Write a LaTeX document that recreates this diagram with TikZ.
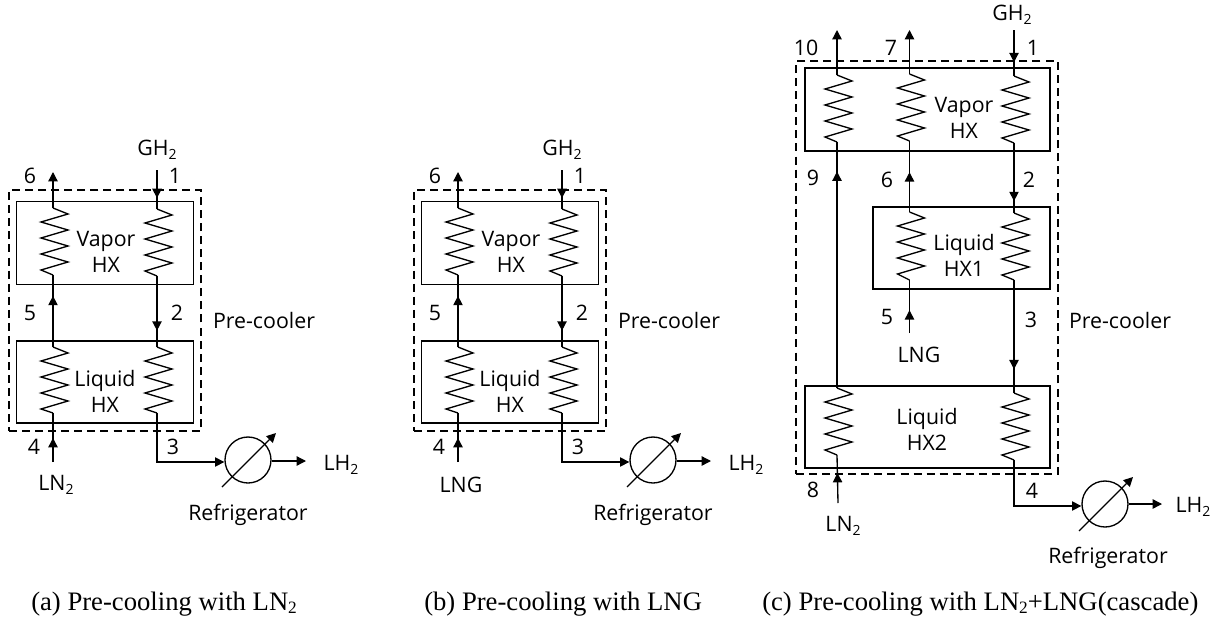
\documentclass[tikz,border=0pt]{standalone}
\usepackage{fontspec}
\setmainfont{Open Sans}
\newfontfamily\capfont{Liberation Serif}
\usetikzlibrary{arrows.meta,decorations.markings}
\newcommand{\low}[1]{\raisebox{-0.35ex}{\fontsize{10.5}{11}\selectfont #1}}
\newcommand{\lowc}[1]{\raisebox{-0.3ex}{\fontsize{13}{14}\selectfont #1}}
\tikzset{
  x=0.75pt,y=-0.75pt,
  pipe/.style={line width=1pt,line join=miter},
  boxx/.style={draw,line width=1pt},
  dashbox/.style={draw,line width=1.6pt,dash pattern=on 6pt off 3.8pt},
  endtip/.style={-{Triangle[length=7pt,width=7pt]}},
  midtip/.style={postaction={decorate},decoration={markings,mark=at position #1 with {\arrow{Triangle[length=7pt,width=7pt]}}}},
  lab/.style={font=\fontsize{16}{19.5}\selectfont,inner sep=0pt,align=center},
  captext/.style={font=\capfont\fontsize{20}{23}\selectfont,inner sep=0pt,anchor=base west},
}
% zigzag coil: name, x, top y, bottom y
\newcommand{\coil}[4]{%
  \coordinate (#1t) at (#2,#3);
  \coordinate (#1b) at (#2,#4);
  \draw[pipe] (#1t) -- ++(15,6) -- ++(-27,8) -- ++(27,8) -- ++(-27,8) -- ++(27,8) -- ++(-27,8) -- ++(27,8) -- ++(-27,8) -- (#1b);
}
% refrigerator symbol: name, x, y
\newcommand{\fridge}[3]{%
  \node[draw,circle,line width=1pt,minimum size=34.5pt,inner sep=0pt] (#1) at (#2,#3) {};
  \coordinate (#1s) at (#2-26,#3+27);
  \coordinate (#1e) at (#2+28,#3-27);
  \draw[pipe,endtip] (#1s) -- (#1e);
}
% one two-stream panel: prefix, x offset, fluid label
\newcommand{\panel}[3]{%
\begin{scope}[xshift=#2*0.75pt]
  \node[dashbox,minimum width=144pt,minimum height=180.75pt,inner sep=0pt] (#1pc) at (105,310.5) {};
  \node[boxx,minimum width=132.75pt,minimum height=62pt,inner sep=0pt] (#1v) at (105,243) {};
  \node[boxx,minimum width=132.75pt,minimum height=61.5pt,inner sep=0pt] (#1l) at (105,382) {};
  \coil{#1A}{53}{208}{275}
  \coil{#1B}{157}{209}{276}
  \coil{#1C}{53}{347}{413}
  \coil{#1D}{157}{347}{413}
  \coordinate (#1o6) at (53,172);
  \coordinate (#1i1) at (157,170);
  \coordinate (#1i4) at (53,462);
  \coordinate (#1c3) at (157,462);
  \fridge{#1F}{248}{460}
  \coordinate (#1out) at (306,461);
  \draw[pipe,endtip] (#1At) -- (#1o6);
  \draw[pipe,midtip=0.72] (#1i1) -- (#1Bt);
  \draw[pipe,midtip=0.71] (#1Ct) -- (#1Ab);
  \draw[pipe,midtip=0.77] (#1Bb) -- (#1Dt);
  \draw[pipe,midtip=0.49] (#1i4) -- (#1Cb);
  \draw[pipe,endtip] (#1Db) -- (#1c3) -- (#1F.west |- #1c3);
  \draw[pipe,endtip] (#1F.east |- #1out) -- (#1out);
  \node[lab] (#1tg) at (157,150) {GH\low{2}};
  \node[lab] (#1t6) at (30,176) {6};
  \node[lab] (#1t1) at (175,176) {1};
  \node[lab] (#1t5) at (30,313) {5};
  \node[lab] (#1t2) at (177,313) {2};
  \node[lab] (#1t3) at (173,447) {3};
  \node[lab] (#1t4) at (34,447) {4};
  \node[lab] (#1tv) at (106,252) {Vapor\\HX};
  \node[lab] (#1tl) at (105,391) {Liquid\\HX};
  \node[lab] (#1tp) at (264,320) {Pre-cooler};
  \node[lab] (#1tf) at (56,485) {#3};
  \node[lab] (#1tr) at (248,515) {Refrigerator};
  \node[lab] (#1th) at (341,465) {LH\low{2}};
\end{scope}}
\begin{document}
\begin{tikzpicture}
\useasboundingbox (0,0) rectangle (1220,621);
\panel{a}{0}{LN\low{2}}
\panel{b}{405}{LNG}
% panel c
\node[dashbox,minimum width=196.5pt,minimum height=309.75pt,inner sep=0pt] (cpc) at (927,267.75) {};
\node[boxx,minimum width=183.75pt,minimum height=62.25pt,inner sep=0pt] (cv) at (927.5,109.5) {};
\node[boxx,minimum width=132.75pt,minimum height=61.5pt,inner sep=0pt] (cl1) at (961.5,248) {};
\node[boxx,minimum width=183.75pt,minimum height=61.5pt,inner sep=0pt] (cl2) at (927.5,427) {};
\coil{cA}{837}{75}{142}
\coil{cB}{909.5}{74}{141}
\coil{cC}{1014}{76}{143}
\coil{cD}{909.5}{212}{280}
\coil{cE}{1014}{213}{280}
\coil{cG}{837}{388}{455}
\coil{cH}{1014}{393}{460}
\coordinate (co10) at (837,30);
\coordinate (co7) at (909.5,30);
\coordinate (ci1) at (1014,30);
\coordinate (ci5) at (909.5,333);
\coordinate (ci8) at (838,503);
\coordinate (cc4) at (1014,506);
\fridge{cF}{1105}{504}
\coordinate (cout) at (1162,504);
\draw[pipe,endtip] (cAt) -- (co10);
\draw[pipe,endtip] (cBt) -- (co7);
\draw[pipe,midtip=0.70] (ci1) -- (cCt);
\draw[pipe,midtip=0.88] (cGt) -- (cAb);
\draw[pipe,midtip=0.56] (cDt) -- (cBb);
\draw[pipe,midtip=0.83] (cCb) -- (cEt);
\draw[pipe,midtip=0.79] (cEb) -- (cHt);
\draw[pipe,midtip=0.43] (ci5) -- (cDb);
\draw[pipe,midtip=0.625] (ci8) -- (cGb);
\draw[pipe,endtip] (cHb) -- (cc4) -- (cF.west |- cc4);
\draw[pipe,endtip] (cF.east) -- (cout);
\node[lab] (ctg) at (1012,15) {GH\low{2}};
\node[lab] (ct10) at (806,48) {10};
\node[lab] (ct7) at (891,48) {7};
\node[lab] (ct1) at (1033,48) {1};
\node[lab] (ct9) at (813,178) {9};
\node[lab] (ct6) at (887,180) {6};
\node[lab] (ct2) at (1029,180) {2};
\node[lab] (ct5) at (887,317) {5};
\node[lab] (ct3) at (1031,320) {3};
\node[lab] (ct8) at (813,490) {8};
\node[lab] (ct4) at (1032,491) {4};
\node[lab] (ctv) at (964,118) {Vapor\\HX};
\node[lab] (ctl1) at (964,255) {Liquid\\HX1};
\node[lab] (ctl2) at (927,429) {Liquid\\HX2};
\node[lab] (ctp) at (1120,320) {Pre-cooler};
\node[lab] (ctlng) at (919,355) {LNG};
\node[lab] (ctln) at (843,526) {LN\low{2}};
\node[lab] (ctr) at (1108,558) {Refrigerator};
\node[lab] (cth) at (1193,507) {LH\low{2}};
% captions
\node[captext] (capa) at (31,610) {(a) Pre-cooling with LN\lowc{2}};
\node[captext] (capb) at (424,610) {(b) Pre-cooling with LNG};
\node[captext] (capc) at (762,610) {(c) Pre-cooling with LN\lowc{2}+LNG(cascade)};
\end{tikzpicture}
\end{document}
